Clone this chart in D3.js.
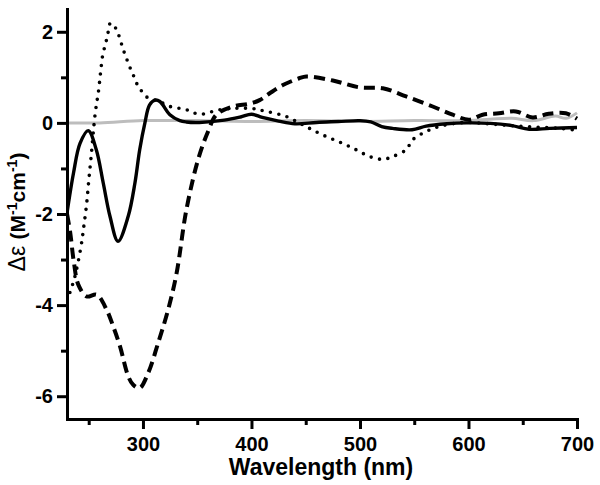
<!DOCTYPE html>
<html>
<head>
<meta charset="utf-8">
<script src="https://cdn.jsdelivr.net/npm/d3@7"></script>
<style>
  body { margin: 0; background: #fff; }
  svg { display: block; }
  .axis path, .axis line { stroke: #000; stroke-width: 3; }
  .axis text { font-family: Arial, "Liberation Sans", sans-serif; font-weight: bold; font-size: 20px; fill: #000; }
</style>
</head>
<body>
<div id="chart"></div>
<script>
// CD spectra (wavelength nm, delta epsilon)
var solidNm  = [230, 236, 242, 249.6, 257, 263.4, 269.6, 277, 286.4, 292.6, 297, 301.8, 306, 311, 315.6, 324.8, 334, 340, 352, 375, 390, 400, 410, 425, 440, 460, 480, 500, 510, 520, 530, 548, 561, 580, 598, 620, 640, 656, 675, 700];
var solidVal = [-1.98, -1.1, -0.45, -0.17, -0.59, -1.32, -2.05, -2.6, -2.05, -1.32, -0.59, 0, 0.39, 0.5, 0.47, 0.18, 0.05, 0.02, 0.01, 0.06, 0.13, 0.19, 0.12, 0.04, -0.02, 0.01, 0.03, 0.05, 0.02, -0.08, -0.12, -0.15, -0.07, -0.02, 0, -0.01, -0.06, -0.14, -0.12, -0.1];

var dotNm  = [230, 233, 237, 243, 245.5, 248, 250, 252, 256, 259, 261, 263, 266, 268, 270, 274, 277, 280, 283, 286, 289, 292, 295, 299, 304, 315, 325, 340, 352, 371, 398, 414, 432, 444, 453.5, 469, 484, 496.5, 509, 521, 530, 542.5, 548.6, 561, 573, 585, 598, 619, 644, 683.5, 700];
var dotVal = [-3.9, -3.7, -3.4, -2.7, -2.27, -1.8, -1.28, -0.8, 0.21, 0.69, 1.12, 1.5, 1.78, 2.0, 2.19, 2.11, 1.97, 1.75, 1.53, 1.34, 1.16, 1.0, 0.83, 0.69, 0.56, 0.47, 0.36, 0.29, 0.19, 0.29, 0.32, 0.25, 0.14, 0, -0.12, -0.3, -0.45, -0.59, -0.74, -0.8, -0.74, -0.59, -0.37, -0.19, -0.08, -0.02, 0.01, -0.02, -0.07, -0.12, -0.16];

var dashNm  = [230, 232.8, 236.4, 240.4, 248.1, 257.3, 266.5, 272.6, 278.8, 286.4, 291, 297, 304.8, 314, 323.2, 331, 340, 351, 360, 367.7, 383, 398, 407.5, 416.8, 429, 444, 450.5, 475, 499.5, 521, 542.5, 567, 585.4, 600.7, 613, 628, 643.7, 659, 674, 689.7, 700];
var dashVal = [-2.0, -2.38, -3.07, -3.55, -3.81, -3.77, -4.1, -4.47, -4.9, -5.56, -5.75, -5.82, -5.49, -4.83, -4.1, -3.3, -1.91, -0.79, -0.19, 0.18, 0.36, 0.42, 0.5, 0.65, 0.83, 0.98, 1.02, 0.93, 0.78, 0.76, 0.58, 0.36, 0.18, 0.07, 0.18, 0.21, 0.25, 0.12, 0.2, 0.21, 0.09];

var grayNm  = [230, 260, 300, 350, 400, 450, 500, 550, 600, 620, 640, 660, 680, 690, 700];
var grayVal = [0, 0, 0.05, 0.05, 0.03, 0.05, 0.03, 0.05, 0.05, 0.08, 0.1, 0.05, 0.15, 0.1, 0.22];

var xMajor = [300, 400, 500, 600, 700];
var xMinor = [250, 350, 450, 550, 650];
var yMajor = [-6, -4, -2, 0, 2];
var yMinor = [-5, -3, -1, 1];

var width = 600, height = 485;
var margin = {t: 9, r: 23, b: 66, l: 67};

var svg = d3.select('#chart').append('svg')
    .attr('width', width)
    .attr('height', height);

var x = d3.scaleLinear().domain([230, 700]).range([margin.l, width - margin.r]);
var y = d3.scaleLinear().domain([-6.5, 2.5]).range([height - margin.b, margin.t]);

function zip(a, b) {
    return a.map(function(d, i) { return [d, b[i]]; });
}

var line = d3.line()
    .x(function(d) { return x(d[0]); })
    .y(function(d) { return y(d[1]); })
    .curve(d3.curveCatmullRom);

svg.append('clipPath').attr('id', 'clip')
    .append('rect')
    .attr('x', margin.l).attr('y', 0)
    .attr('width', width - margin.r - margin.l + 4)
    .attr('height', height - margin.b);

var plot = svg.append('g').attr('clip-path', 'url(#clip)');

plot.append('path').attr('d', line(zip(grayNm, grayVal)))
    .attr('fill', 'none').attr('stroke', '#bdbdbd').attr('stroke-width', 3);

plot.append('path').attr('d', line(zip(solidNm, solidVal)))
    .attr('fill', 'none').attr('stroke', '#000').attr('stroke-width', 3.4);

plot.append('path').attr('d', line(zip(dotNm, dotVal)))
    .attr('fill', 'none').attr('stroke', '#000').attr('stroke-width', 3.6)
    .attr('stroke-linecap', 'round').attr('stroke-dasharray', '0,8.5');

plot.append('path').attr('d', line(zip(dashNm, dashVal)))
    .attr('fill', 'none').attr('stroke', '#000').attr('stroke-width', 4)
    .attr('stroke-dasharray', '11,6');

// axes
var plain = function(d) { return String(d); }; // hyphen minus like the original

svg.append('g').attr('class', 'axis')
    .attr('transform', 'translate(0,' + y(-6.5) + ')')
    .call(d3.axisBottom(x).tickValues(xMajor).tickSize(10).tickSizeOuter(0).tickPadding(8).tickFormat(plain));
svg.append('g').attr('class', 'axis')
    .attr('transform', 'translate(0,' + y(-6.5) + ')')
    .call(d3.axisBottom(x).tickValues(xMinor).tickSize(6).tickSizeOuter(0).tickFormat(''))
    .select('.domain').remove();

svg.append('g').attr('class', 'axis')
    .attr('transform', 'translate(' + margin.l + ',0)')
    .call(d3.axisLeft(y).tickValues(yMajor).tickSize(10).tickSizeOuter(0).tickPadding(4).tickFormat(plain));
svg.append('g').attr('class', 'axis')
    .attr('transform', 'translate(' + margin.l + ',0)')
    .call(d3.axisLeft(y).tickValues(yMinor).tickSize(6).tickSizeOuter(0).tickFormat(''))
    .select('.domain').remove();

svg.selectAll('.axis .domain').attr('stroke-linecap', 'square');

// axis titles
svg.append('text')
    .attr('x', (x(230) + x(700)) / 2 - 1)
    .attr('y', 475)
    .attr('text-anchor', 'middle')
    .style('font-family', 'Arial, "Liberation Sans", sans-serif')
    .style('font-weight', 'bold')
    .style('font-size', '23px')
    .text('Wavelength (nm)');

var yTitle = svg.append('text')
    .attr('transform', 'translate(25,212) rotate(-90)')
    .attr('text-anchor', 'middle')
    .style('font-family', 'Arial, "Liberation Sans", sans-serif')
    .style('font-weight', 'bold')
    .style('font-size', '21px');
yTitle.append('tspan').style('font-weight', 'normal').style('font-size', '23px').text('\u0394\u03b5 ');
yTitle.append('tspan').text('(M');
yTitle.append('tspan').attr('dy', -8).style('font-size', '14px').text('-1');
yTitle.append('tspan').attr('dy', 8).text('cm');
yTitle.append('tspan').attr('dy', -8).style('font-size', '14px').text('-1');
yTitle.append('tspan').attr('dy', 8).text(')');
</script>
</body>
</html>
